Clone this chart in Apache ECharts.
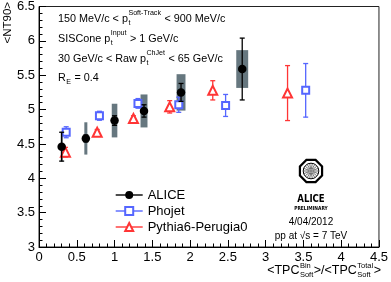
<!DOCTYPE html>
<html><head><meta charset="utf-8">
<script src="https://cdn.jsdelivr.net/npm/echarts@6/dist/echarts.min.js"></script>
<style>html,body{margin:0;padding:0;background:#fff}#c{width:391px;height:282px}</style>
</head><body><div id="c"></div>
<script>
// ---- data ----
const xTickLabels = ['0','0.5','1','1.5','2','2.5','3','3.5','4','4.5'];
const yTickLabels = ['3','3.5','4','4.5','5','5.5','6','6.5'];
const seriesNames = ['ALICE','Phojet','Pythia6-Perugia0'];

const aliceX    = [0.30, 0.62, 1.00, 1.39, 1.88, 2.69];
const aliceY    = [4.46, 4.58, 4.84, 4.98, 5.25, 5.59];
const aliceStat = [0.21, 0.05, 0.07, 0.09, 0.13, 0.45];
const aliceSysX = [0.013, 0.02, 0.037, 0.046, 0.059, 0.079];
const aliceSysY = [0.22, 0.235, 0.245, 0.24, 0.265, 0.275];

const phojetX   = [0.36, 0.80, 1.31, 1.85, 2.47, 3.53];
const phojetY   = [4.67, 4.91, 5.09, 5.07, 5.06, 5.28];
const phojetErr = [0.08, 0.065, 0.07, 0.11, 0.16, 0.39];

const pythiaX   = [0.35, 0.77, 1.25, 1.73, 2.30, 3.29];
const pythiaY   = [4.38, 4.67, 4.87, 5.04, 5.28, 5.24];
const pythiaErr = [0.07, 0.04, 0.04, 0.09, 0.14, 0.40];

// ---- styling ----
const FONT = 'Liberation Sans';
const BLUE = '#5566ff', RED = '#ff3535', BOX = '#66777f';
const cv = document.createElement('canvas').getContext('2d');
function tw(s, size, weight){ cv.font = (weight||'normal')+' '+size+'px "'+FONT+'"'; return cv.measureText(s).width; }
function txt(x, y, s, size, extra){
  return Object.assign({type:'text', x:x, y:y, silent:true,
    style:{text:s, fontSize:size, fontFamily:FONT, fill:'#000', align:'left', verticalAlign:'middle'}}, extra||{});
}
function richLine(x, y, parts, size, align, ratio, supOff, subOff){
  ratio = ratio || 0.66; supOff = supOff || 0.55; subOff = subOff || 0.40;
  const ss = size*ratio, els = [];
  const items = parts.map(p => typeof p === 'string' ? {p:p, w:tw(p,size)} :
      {p:p, w:Math.max(p.sup?tw(p.sup,ss):0, p.sub?tw(p.sub,ss):0)+1});
  const total = items.reduce((a,b)=>a+b.w,0);
  let cx = align==='right' ? x-total : x;
  items.forEach(it=>{
    const p = it.p;
    if (typeof p === 'string') els.push(txt(cx, y, p, size));
    else {
      if (p.sup) els.push(txt(cx+0.5, y-size*supOff, p.sup, ss));
      if (p.sub) els.push(txt(cx+0.5, y+size*subOff, p.sub, ss));
    }
    cx += it.w;
  });
  return els;
}

function errSeries(xs, ys, es, color, z){
  return {type:'custom', silent:true, z:z,
    data: xs.map((x,i)=>[x, ys[i]-es[i], ys[i]+es[i]]),
    encode:{x:0, y:[1,2]},
    renderItem:function(params, api){
      const lo = api.coord([api.value(0), api.value(1)]);
      const hi = api.coord([api.value(0), api.value(2)]);
      const c = 2.5, st = {stroke:color, lineWidth:1.3};
      return {type:'group', children:[
        {type:'line', shape:{x1:lo[0],y1:lo[1],x2:hi[0],y2:hi[1]}, style:st},
        {type:'line', shape:{x1:lo[0]-c,y1:lo[1],x2:lo[0]+c,y2:lo[1]}, style:st},
        {type:'line', shape:{x1:hi[0]-c,y1:hi[1],x2:hi[0]+c,y2:hi[1]}, style:st}
      ]};
    }};
}

// logo
function logo(cx, cy){
  const ch = [];
  const pts = [];
  for (let k=0;k<8;k++){ const a=(22.5+45*k)*Math.PI/180; pts.push([12*Math.cos(a), 12*Math.sin(a)]); }
  ch.push({type:'polygon', shape:{points:pts}, style:{fill:'#fff', stroke:'#000', lineWidth:2.2}});
  ch.push({type:'circle', shape:{cx:0, cy:0, r:7.8}, style:{fill:'none', stroke:'#000', lineWidth:1}});
  for (let k=0;k<18;k++){ const a=k*20*Math.PI/180;
    ch.push({type:'line', shape:{x1:1.8*Math.cos(a), y1:1.8*Math.sin(a), x2:7.5*Math.cos(a), y2:7.5*Math.sin(a)}, style:{stroke:'#333', lineWidth:0.7}}); }
  ch.push({type:'circle', shape:{cx:0, cy:0, r:1.8}, style:{fill:'#888'}});
  return {type:'group', x:cx, y:cy, silent:true, children:ch};
}

const graphics = [].concat(
  richLine(58, 19, ['150 MeV/c < p', {sup:'Soft-Track', sub:'t'}, ' < 900 MeV/c'], 10.8),
  richLine(58, 39, ['SISCone p', {sup:'Input', sub:'t'}, ' > 1 GeV/c'], 10.8),
  richLine(58, 59, ['30 GeV/c < Raw p', {sup:'ChJet', sub:'t'}, ' < 65 GeV/c'], 10.8),
  richLine(58, 78, ['R', {sub:'E'}, ' = 0.4'], 10.8),
  richLine(381, 271, ['<TPC', {sup:'Bin', sub:'Soft'}, '>/<TPC', {sup:'Total', sub:'Soft'}, '>'], 12.5, 'right', 0.6, 0.38, 0.34),
  [
    txt(8, 2, '<NT90>', 11, {rotation:Math.PI/2, style:{text:'<NT90>', fontSize:11.5, fontFamily:FONT, fill:'#000', align:'right', verticalAlign:'middle'}}),
    logo(311, 171),
    {type:'text', x:311, y:199, scaleX:0.78, silent:true, style:{text:'ALICE', fontSize:11, fontWeight:'bold', fontFamily:'DejaVu Sans', fill:'#000', align:'center', verticalAlign:'middle'}},
    {type:'text', x:311, y:208.5, scaleX:0.8, silent:true, style:{text:'PRELIMINARY', fontSize:5.5, fontWeight:'bold', fontFamily:'DejaVu Sans', fill:'#000', align:'center', verticalAlign:'middle'}},
    {type:'text', x:311, y:222, silent:true, style:{text:'4/04/2012', fontSize:10, fontFamily:FONT, fill:'#000', align:'center', verticalAlign:'middle'}},
    {type:'text', x:311, y:236, silent:true, style:{text:'pp at \u221As = 7 TeV', fontSize:10, fontFamily:FONT, fill:'#000', align:'center', verticalAlign:'middle'}}
  ]
);

const axisCommon = {
  axisLine:{show:true, lineStyle:{color:'#000', width:1}},
  axisTick:{show:true, inside:true, length:7, lineStyle:{color:'#000', width:1}},
  minorTick:{show:true, splitNumber:5, length:3.5, lineStyle:{color:'#000', width:1}},
  splitLine:{show:false}, minorSplitLine:{show:false},
  axisLabel:{color:'#000', fontSize:13, fontFamily:FONT, margin:4}
};

const chart = echarts.init(document.getElementById('c'), null, {renderer:'canvas'});
chart.setOption({
  animation:false,
  backgroundColor:'#fff',
  grid:{left:39, right:8, top:5, bottom:35, show:true, borderColor:'#222', borderWidth:1, backgroundColor:'transparent'},
  xAxis: Object.assign({}, axisCommon, {type:'value', min:0, max:4.5, interval:0.5,
    axisLabel:Object.assign({}, axisCommon.axisLabel, {formatter:(v)=>{const i=Math.round(v/0.5); return xTickLabels[i]||'';}})}),
  yAxis: Object.assign({}, axisCommon, {type:'value', min:3, max:6.5, interval:0.5,
    axisLabel:Object.assign({}, axisCommon.axisLabel, {formatter:(v)=>{const i=Math.round((v-3)/0.5); return yTickLabels[i]||'';}})}),
  legend:{
    data:seriesNames, orient:'vertical', left:110, top:183.5, itemWidth:27, itemHeight:10, itemGap:3,
    textStyle:{color:'#000', fontSize:13, fontFamily:FONT}, lineStyle:{width:1.4}, selectedMode:false
  },
  graphic: graphics,
  series:[
    {type:'custom', silent:true, z:1,
      data: aliceX.map((x,i)=>[x, aliceY[i], aliceSysX[i], aliceSysY[i]]),
      encode:{x:0, y:1},
      renderItem:function(params, api){
        const x=api.value(0), y=api.value(1), dx=api.value(2), dy=api.value(3);
        const a = api.coord([x-dx, y+dy]), b = api.coord([x+dx, y-dy]);
        return {type:'rect', shape:{x:a[0], y:a[1], width:b[0]-a[0], height:b[1]-a[1]}, style:{fill:BOX}};
      }},
    errSeries(phojetX, phojetY, phojetErr, BLUE, 2),
    errSeries(pythiaX, pythiaY, pythiaErr, RED, 2),
    {type:'line', name:seriesNames[1], z:3, data:phojetX.map((x,i)=>[x, phojetY[i]]),
      symbol:'emptyRect', symbolSize:7, showSymbol:true, lineStyle:{width:0, color:BLUE},
      itemStyle:{color:BLUE, borderColor:BLUE, borderWidth:1.3}},
    {type:'line', name:seriesNames[2], z:3, data:pythiaX.map((x,i)=>[x, pythiaY[i]]),
      symbol:'emptyTriangle', symbolSize:9, showSymbol:true, lineStyle:{width:0, color:RED},
      itemStyle:{color:RED, borderColor:RED, borderWidth:1.3}},
    errSeries(aliceX, aliceY, aliceStat, '#000', 4),
    {type:'line', name:seriesNames[0], z:5, data:aliceX.map((x,i)=>[x, aliceY[i]]),
      symbol:'circle', symbolSize:8.5, showSymbol:true, lineStyle:{width:0, color:'#000'},
      itemStyle:{color:'#000'}}
  ]
});
</script></body></html>
